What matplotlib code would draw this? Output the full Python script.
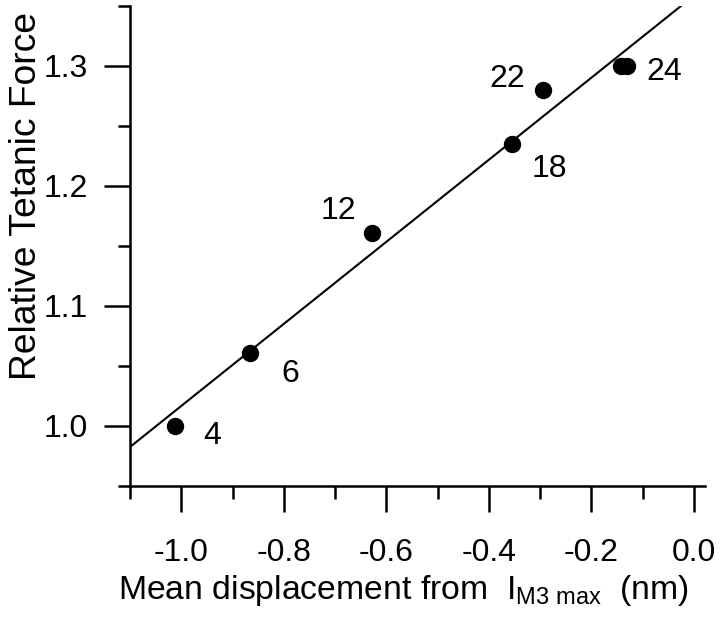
import numpy as np
import matplotlib
matplotlib.use("Agg")
import matplotlib.pyplot as plt
from matplotlib.ticker import MultipleLocator

plt.rcParams['font.family'] = ['Liberation Sans', 'DejaVu Sans']
plt.rcParams['mathtext.fontset'] = 'custom'
plt.rcParams['mathtext.rm'] = 'Liberation Sans'
plt.rcParams['mathtext.it'] = 'Liberation Sans'

# data
displacement = [-1.012, -0.866, -0.628, -0.355, -0.294, -0.142, -0.131]
force = [1.000, 1.061, 1.161, 1.235, 1.280, 1.300, 1.300]
point_labels = ['4', '6', '12', '18', '22', '24', '']

# linear fit drawn through the points
fit_slope = 0.342
fit_intercept = 1.3587

# label offsets (points) relative to each marker
label_offsets = [(27, -7), (29, -15), (-24, 16), (27, -18), (-26, 8), (31, -4), (0, 0)]

fig = plt.figure(figsize=(7.21, 6.18), dpi=100)
ax = fig.add_axes([0.1803, 0.2136, 0.7975, 0.7767])

fit_x = np.array([-1.1, 0.0])
ax.plot(fit_x, fit_intercept + fit_slope * fit_x, color='black', lw=1.5)
ax.plot(displacement, force, 'o', color='black', markersize=11.5)

for x, y, lab, off in zip(displacement, force, point_labels, label_offsets):
    if lab:
        ax.annotate(lab, (x, y), xytext=off, textcoords='offset points',
                    ha='center', va='center', fontsize=23)

ax.set_xlim(-1.1, 0.0214)
ax.set_ylim(0.95, 1.35)

ax.spines['top'].set_visible(False)
ax.spines['right'].set_visible(False)
for s in ['left', 'bottom']:
    ax.spines[s].set_linewidth(1.8)

ax.set_xticks([-1.0, -0.8, -0.6, -0.4, -0.2, 0.0])
ax.set_xticklabels(['-1.0', '-0.8', '-0.6', '-0.4', '-0.2', '0.0'])
ax.set_xticks([-1.1, -0.9, -0.7, -0.5, -0.3, -0.1], minor=True)
ax.set_yticks([1.0, 1.1, 1.2, 1.3])
ax.set_yticks([0.95, 1.05, 1.15, 1.25, 1.35], minor=True)

ax.tick_params(axis='both', which='major', length=18.5, width=1.8, labelsize=23)
ax.tick_params(axis='both', which='minor', length=9, width=1.8)
ax.tick_params(axis='x', which='major', pad=19)
ax.tick_params(axis='y', which='major', pad=12)

ax.set_xlabel(r'Mean displacement from  I$_{\mathrm{M3\ max}}$  (nm)', fontsize=24.3)
ax.xaxis.set_label_coords(0.476, -0.181)
ax.set_ylabel('Relative Tetanic Force', fontsize=26.8)
ax.yaxis.set_label_coords(-0.15, 0.604)

fig.savefig('out.png', dpi=100)
